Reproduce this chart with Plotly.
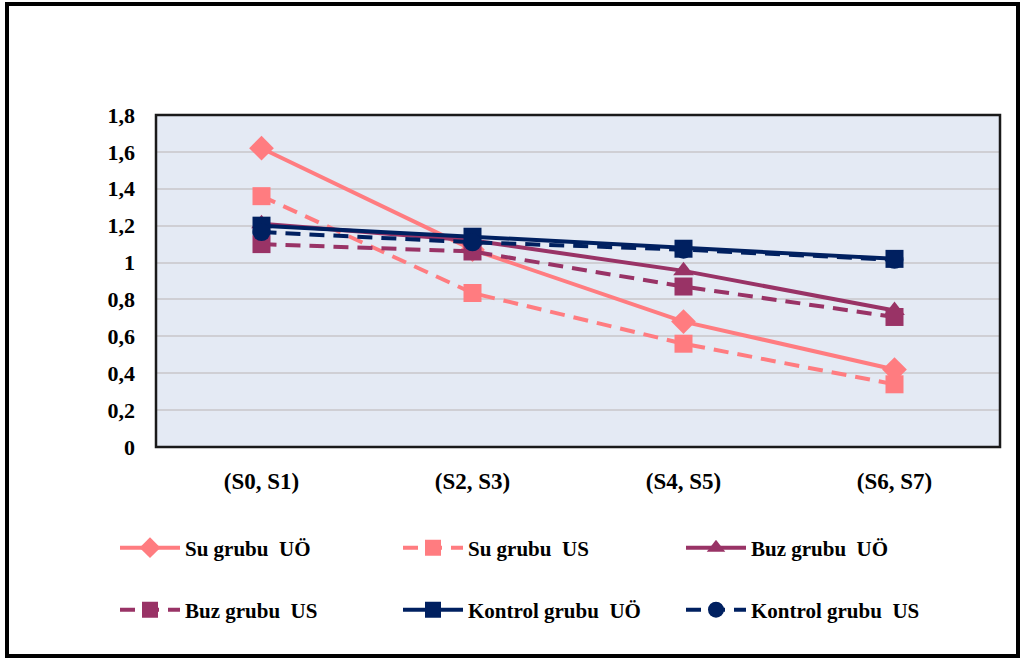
import plotly.graph_objects as go

categories = ["(S0, S1)", "(S2, S3)", "(S4, S5)", "(S6, S7)"]

su_uo = [1.62, 1.07, 0.68, 0.42]
su_us = [1.36, 0.835, 0.56, 0.34]
buz_uo = [1.21, 1.12, 0.955, 0.74]
buz_us = [1.10, 1.06, 0.87, 0.705]
kontrol_uo = [1.20, 1.14, 1.075, 1.02]
kontrol_us = [1.165, 1.11, 1.07, 1.015]

y_ticks = [0, 0.2, 0.4, 0.6, 0.8, 1, 1.2, 1.4, 1.6, 1.8]

PINK = "#FF7C80"
MAROON = "#993366"
NAVY = "#002060"
FONT = "Liberation Serif"
DASH = "15px,9px"

series = [
    ("Su grubu  UÖ", su_uo, PINK, "solid", "diamond", 19, "legend"),
    ("Su grubu  US", su_us, PINK, DASH, "square", 18, "legend"),
    ("Buz grubu  UÖ", buz_uo, MAROON, "solid", "triangle-up", 18, "legend"),
    ("Buz grubu  US", buz_us, MAROON, DASH, "square", 18, "legend2"),
    ("Kontrol grubu  UÖ", kontrol_uo, NAVY, "solid", "square", 18, "legend2"),
    ("Kontrol grubu  US", kontrol_us, NAVY, DASH, "circle", 18, "legend2"),
]

fig = go.Figure()
for name, vals, color, dash, symbol, size, leg in series:
    fig.add_trace(go.Scatter(
        x=categories, y=vals, name=name, mode="lines+markers",
        line=dict(color=color, width=4, dash=dash),
        marker=dict(symbol=symbol, size=size, color=color),
        legend=leg,
    ))

L, R, T, B = 156, 23, 115, 212
W, H = 1023, 659
pw, ph = W - L - R, H - T - B

def px_x(x):
    return (x - L) / pw

def px_y(y):
    return (H - B - y) / ph

legend_common = dict(
    orientation="h", xanchor="left", yanchor="middle",
    xref="paper", yref="paper",
    font=dict(family=FONT, size=21, color="black", weight="bold"),
    entrywidth=208, entrywidthmode="pixels", itemwidth=60,
    bgcolor="rgba(0,0,0,0)", traceorder="normal",
)

fig.update_layout(
    width=W, height=H,
    margin=dict(l=L, r=R, t=T, b=B),
    paper_bgcolor="white",
    plot_bgcolor="#E4EAF4",
    separators=",.",
    showlegend=True,
    legend=dict(x=px_x(115), y=px_y(548), **legend_common),
    legend2=dict(x=px_x(115), y=px_y(610), **legend_common),
    xaxis=dict(
        type="category", range=[-0.5, 3.5], showgrid=False, zeroline=False,
        tickfont=dict(family=FONT, size=23, color="black", weight="bold"),
        ticks="", showline=False, ticklabelstandoff=18,
    ),
    yaxis=dict(
        range=[0, 1.8], tickvals=y_ticks, showgrid=True,
        gridcolor="#CFCFD4", gridwidth=1.5, zeroline=False,
        tickfont=dict(family=FONT, size=22, color="black", weight="bold"),
        ticks="", showline=False, ticklabelstandoff=20,
    ),
    shapes=[
        dict(type="rect", xref="paper", yref="paper", x0=0, x1=1, y0=0, y1=1,
             line=dict(color="#1a1a1a", width=2.5), layer="above"),
        dict(type="rect", xref="paper", yref="paper",
             x0=px_x(7), x1=px_x(1018), y0=px_y(656), y1=px_y(4),
             line=dict(color="black", width=4), layer="above"),
    ],
)

fig.write_html("out.html")
